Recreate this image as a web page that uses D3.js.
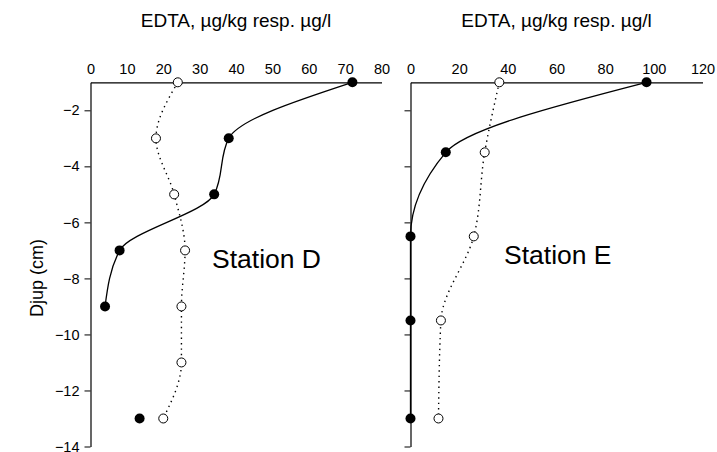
<!DOCTYPE html>
<html>
<head>
<meta charset="utf-8">
<script src="https://cdn.jsdelivr.net/npm/d3@7/dist/d3.min.js"></script>
<style>
  html, body { margin: 0; padding: 0; background: #fff; }
  svg { display: block; font-family: "Liberation Sans", Arial, sans-serif; }
</style>
</head>
<body>
<svg id="chart" width="717" height="452"></svg>
<script>
// Depth profiles (cm) and EDTA concentrations
const depthD_solid = [-1, -3, -5, -7, -9, -13];
const edtaD_solid  = [72, 38, 34, 8, 4, 13.5];
const depthD_water = [-1, -3, -5, -7, -9, -11, -13];
const edtaD_water  = [24, 18, 23, 26, 25, 25, 20];

const depthE_solid = [-1, -3.5, -6.5, -9.5, -13];
const edtaE_solid  = [97, 14.5, 0, 0, 0];
const depthE_water = [-1, -3.5, -6.5, -9.5, -13];
const edtaE_water  = [36.5, 30.5, 26, 12.5, 11.5];

const xTicksD = [0, 10, 20, 30, 40, 50, 60, 70, 80];
const xTicksE = [0, 20, 40, 60, 80, 100, 120];
const yTicks  = [-2, -4, -6, -8, -10, -12, -14];

const titleText = "EDTA, µg/kg resp. µg/l";
const yTitle = "Djup (cm)";

const svg = d3.select("#chart");

const y = d3.scaleLinear().domain([-1, -14]).range([82.3, 446.5]);

const panels = [
  { name: "Station D", x: d3.scaleLinear().domain([0, 80]).range([90.5, 381.5]), ticks: xTicksD,
    solid: { d: depthD_solid, v: edtaD_solid, lineCount: 5 },
    water: { d: depthD_water, v: edtaD_water },
    labelPos: [212, 268], yLabels: true },
  { name: "Station E", x: d3.scaleLinear().domain([0, 120]).range([410.5, 702.5]), ticks: xTicksE,
    solid: { d: depthE_solid, v: edtaE_solid, lineCount: 5 },
    water: { d: depthE_water, v: edtaE_water },
    labelPos: [504, 264], yLabels: false }
];

panels.forEach(p => {
  const g = svg.append("g");
  const x = p.x;
  const x0 = x.range()[0], x1 = x.range()[1];

  // title
  g.append("text")
    .attr("x", (x0 + x1) / 2).attr("y", 27)
    .attr("text-anchor", "middle")
    .attr("font-size", 19)
    .text(titleText);

  // top axis: line with labels only
  const xa = g.append("g").attr("transform", `translate(0,${y(-1)})`)
    .call(d3.axisTop(x).tickValues(p.ticks).tickSize(0).tickPadding(8).tickFormat(d3.format("d")));
  xa.select(".domain").attr("stroke", "#000").attr("stroke-width", 1.2);
  xa.selectAll("text").attr("font-size", 14.5).attr("fill", "#000").attr("font-family", null);

  // left axis
  const ya = g.append("g").attr("transform", `translate(${x0},0)`)
    .call(d3.axisLeft(y).tickValues(yTicks).tickSize(6).tickSizeOuter(0).tickPadding(5)
      .tickFormat(p.yLabels ? d3.format("d") : () => ""));
  ya.select(".domain").attr("stroke", "#000").attr("stroke-width", 1.2);
  ya.selectAll(".tick line").attr("stroke", "#000");
  ya.selectAll("text").attr("font-size", 14.5).attr("fill", "#000").attr("font-family", null);

  const line = d3.line().curve(d3.curveMonotoneY);

  // pore water (dotted)
  const wpts = p.water.d.map((d, i) => [x(p.water.v[i]), y(d)]);
  g.append("path").attr("d", line(wpts))
    .attr("fill", "none").attr("stroke", "#000").attr("stroke-width", 1.4)
    .attr("stroke-dasharray", "1.4,4").attr("stroke-linecap", "butt");

  // sediment (solid)
  const spts = p.solid.d.map((d, i) => [x(p.solid.v[i]), y(d)]);
  g.append("path").attr("d", line(spts.slice(0, p.solid.lineCount)))
    .attr("fill", "none").attr("stroke", "#000").attr("stroke-width", 1.3);

  g.selectAll("circle.w").data(wpts).join("circle").attr("class", "w")
    .attr("cx", d => d[0]).attr("cy", d => d[1]).attr("r", 4.5)
    .attr("fill", "#fff").attr("stroke", "#000").attr("stroke-width", 1);

  g.selectAll("circle.s").data(spts).join("circle").attr("class", "s")
    .attr("cx", d => d[0]).attr("cy", d => d[1]).attr("r", 5)
    .attr("fill", "#000");

  g.append("text")
    .attr("x", p.labelPos[0]).attr("y", p.labelPos[1])
    .attr("font-size", 26.5)
    .text(p.name);
});

svg.append("text")
  .attr("transform", `translate(43,278) rotate(-90)`)
  .attr("text-anchor", "middle")
  .attr("font-size", 18)
  .text(yTitle);
</script>
</body>
</html>
